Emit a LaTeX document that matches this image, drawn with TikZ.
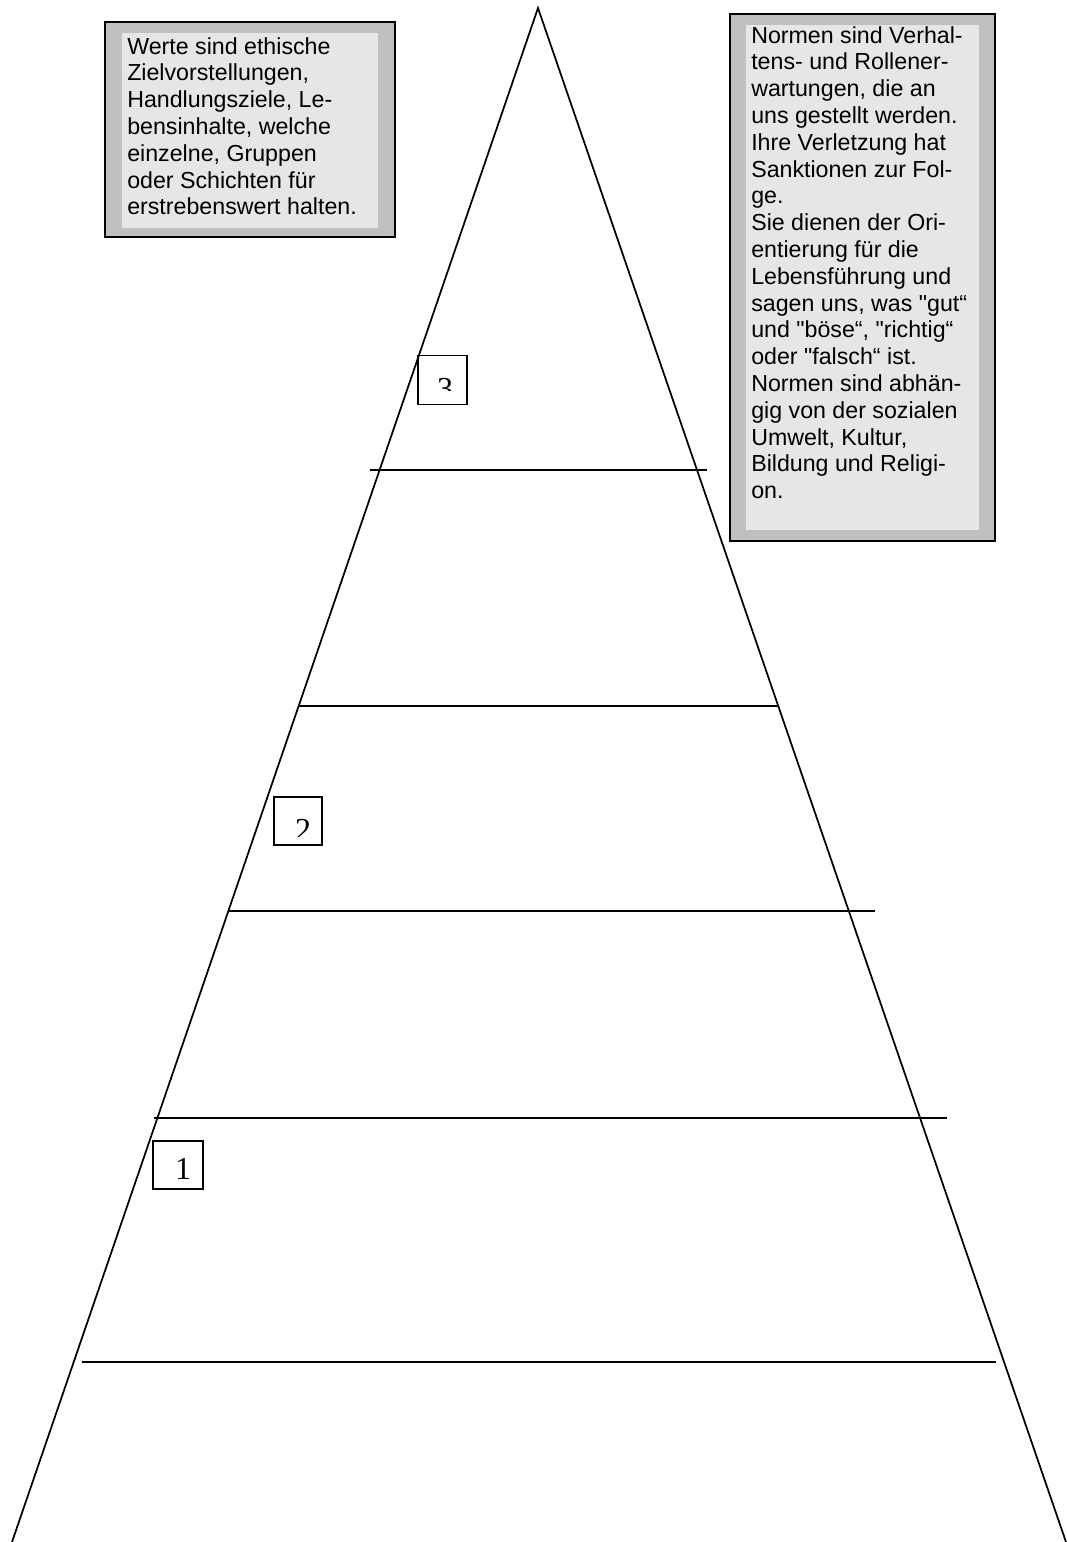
\documentclass[tikz,border=0pt]{standalone}
\usepackage{fontspec}
\setmainfont{Liberation Sans}
\newfontfamily\boxfont{Liberation Sans}
\newfontfamily\digitfont{Liberation Serif}
\definecolor{boxgray}{HTML}{C0C0C0}
\definecolor{innergray}{HTML}{E6E6E6}
\begin{document}
\begin{tikzpicture}[x=0.75pt,y=-0.75pt,
  pyr/.style={line width=1.3pt,black},
  level/.style={line width=1.3pt,black},
  outerbox/.style={fill=boxgray,draw=black,line width=1.5pt},
  innerbox/.style={fill=innergray,draw=none},
  boxtext/.style={inner sep=0pt,anchor=north west,align=left,font=\boxfont\fontsize{17.4}{20.1}\selectfont},
  numbox/.style={draw=black,line width=1.1pt},
  numtext/.style={inner sep=0pt,font=\digitfont\fontsize{24}{24}\selectfont}]
\useasboundingbox (0,0) rectangle (1067,1542);
% pyramid
\coordinate (apex) at (538,8);
\coordinate (bl) at (12,1542);
\coordinate (br) at (1066,1542);
\draw[pyr] (bl) -- (apex) -- (br);
% levels
\coordinate (l1a) at (370,470);  \coordinate (l1b) at (707,470);
\coordinate (l2a) at (298,706);  \coordinate (l2b) at (779,706);
\coordinate (l3a) at (228,911);  \coordinate (l3b) at (875,911);
\coordinate (l4a) at (154,1118); \coordinate (l4b) at (947,1118);
\coordinate (l5a) at (82,1362);  \coordinate (l5b) at (996,1362);
\draw[level] (l1a) -- (l1b);
\draw[level] (l2a) -- (l2b);
\draw[level] (l3a) -- (l3b);
\draw[level] (l4a) -- (l4b);
\draw[level] (l5a) -- (l5b);
% left text box
\draw[outerbox] (105,22) rectangle (395,237);
\fill[innerbox] (122,33) rectangle (378,228);
\node[boxtext] (werte) at (127,37) {Werte sind ethische\\Zielvorstellungen,\\Handlungsziele, Le-\\bensinhalte, welche\\einzelne, Gruppen\\oder Schichten für\\erstrebenswert halten.};
% right text box
\draw[outerbox] (730,14) rectangle (995,541);
\fill[innerbox] (746,25) rectangle (979,530);
\node[boxtext] (normen) at (751,26) {Normen sind Verhal-\\tens- und Rollener-\\wartungen, die an\\uns gestellt werden.\\Ihre Verletzung hat\\Sanktionen zur Fol-\\ge.\\Sie dienen der Ori-\\entierung für die\\Lebensführung und\\sagen uns, was "gut“\\und "böse“, "richtig“\\oder "falsch“ ist.\\Normen sind abhän-\\gig von der sozialen\\Umwelt, Kultur,\\Bildung und Religi-\\on.};
% numbered boxes
\node[numbox,minimum width=36.5pt,minimum height=36.5pt,inner sep=0pt] (b3) at (442.5,380) {};
\node[numbox,minimum width=36pt,minimum height=36pt,inner sep=0pt] (b2) at (298,821) {};
\node[numbox,minimum width=37.5pt,minimum height=36pt,inner sep=0pt] (b1) at (178,1165) {};
\begin{scope}
\clip (420,360) rectangle (465,390);
\node[numtext] (n3) at (445,389) {3};
\end{scope}
\begin{scope}
\clip (276,800) rectangle (320,836);
\node[numtext] (n2) at (303,830) {2};
\end{scope}
\node[numtext] (n1) at (183,1169) {1};
\end{tikzpicture}
\end{document}
